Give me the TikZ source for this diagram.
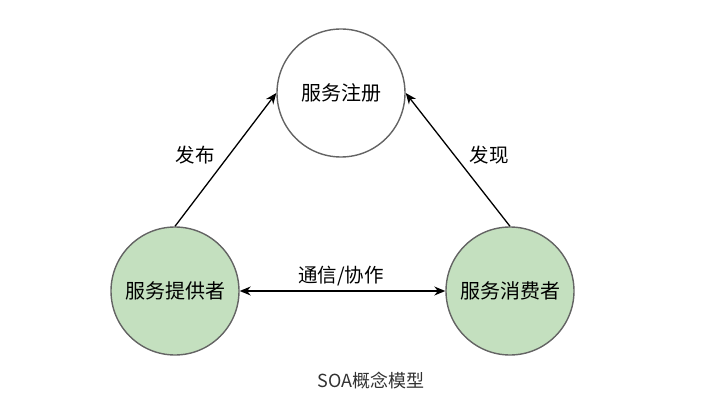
\documentclass[tikz,border=0pt]{standalone}
\usepackage{fontspec}
\setmainfont{Noto Sans CJK SC}
\usepackage{tikz}
\usetikzlibrary{arrows.meta}
\usepackage{xcolor}
\definecolor{nodegreen}{RGB}{196,224,191}
\definecolor{rimgray}{RGB}{100,100,100}
\definecolor{captiongray}{RGB}{50,50,50}

\begin{document}
\begin{tikzpicture}[x=1pt, y=-1pt,
    role/.style={circle, draw=rimgray, line width=1.4pt, minimum size=128pt, inner sep=0pt, font=\fontsize{20}{20}\selectfont},
    link/.style={line width=1.3pt, -{Stealth[length=11pt, width=9pt]}},
    lbl/.style={font=\fontsize{19.5}{19.5}\selectfont}]
    \useasboundingbox (0,0) rectangle (718,401);

    % Roles
    \node[role, fill=white] (registry) at (341,93) {服务注册};
    \node[role, fill=nodegreen] (provider) at (175,291) {服务提供者};
    \node[role, fill=nodegreen] (consumer) at (510,291) {服务消费者};

    % Relations
    \draw[link] (provider.north) -- (registry.west);
    \draw[link] (consumer.north) -- (registry.east);
    \draw[link, {Stealth[length=11pt, width=9pt]}-{Stealth[length=11pt, width=9pt]}] (provider.east) -- (consumer.west);

    \node[lbl] (publish) at (195,155) {发布};
    \node[lbl] (discover) at (489,155) {发现};
    \node[lbl] (talk) at (341,276) {通信/协作};

    % Caption
    \node[font=\fontsize{18}{18}\selectfont, text=captiongray] (caption) at (371,381) {SOA概念模型};
\end{tikzpicture}
\end{document}
